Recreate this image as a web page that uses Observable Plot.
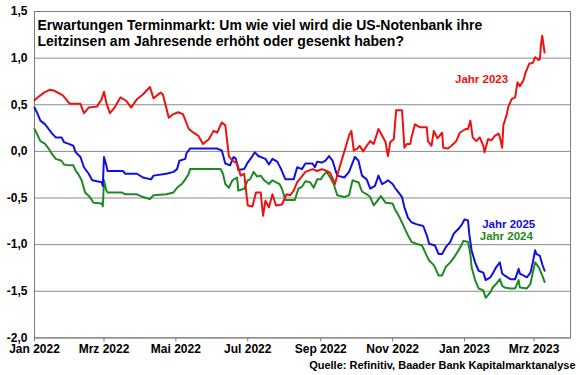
<!DOCTYPE html>
<html><head><meta charset="utf-8">
<script src="https://cdn.jsdelivr.net/npm/d3@7"></script>
<script src="https://cdn.jsdelivr.net/npm/@observablehq/plot@0.6"></script>
<style>body{margin:0;background:#fff} svg{font-family:"Liberation Sans",Arial,sans-serif}</style>
</head><body><div id="chart"></div>
<script>
const titleLines = ["Erwartungen Terminmarkt: Um wie viel wird die US-Notenbank ihre", "Leitzinsen am Jahresende erhöht oder gesenkt haben?"];
const caption = "Quelle: Refinitiv, Baader Bank Kapitalmarktanalyse";
const yTicks = [-2, -1.5, -1, -0.5, 0, 0.5, 1, 1.5];
const xTickDates = ["2022-01-01","2022-03-01","2022-05-01","2022-07-01","2022-09-01","2022-11-01","2023-01-01","2023-03-01"];
const xTickLabels = ["Jan 2022","Mrz 2022","Mai 2022","Jul 2022","Sep 2022","Nov 2022","Jan 2023","Mrz 2023"];
const xDomain = ["2022-01-01","2023-04-01"];

const seriesNames = ["Jahr 2024","Jahr 2025","Jahr 2023"];
const seriesColors = ["#1f8a22","#1010e0","#ee1111"];

const dates2023 = ["2022-01-01","2022-01-04","2022-01-09","2022-01-14","2022-01-18","2022-01-25","2022-01-31","2022-02-09","2022-02-12","2022-02-16","2022-02-23","2022-02-27","2022-03-01","2022-03-03","2022-03-06","2022-03-10","2022-03-15","2022-03-20","2022-03-24","2022-03-29","2022-04-03","2022-04-09","2022-04-12","2022-04-18","2022-04-20","2022-04-25","2022-04-29","2022-05-03","2022-05-07","2022-05-12","2022-05-16","2022-05-20","2022-05-24","2022-05-29","2022-06-02","2022-06-05","2022-06-09","2022-06-12","2022-06-15","2022-06-18","2022-06-22","2022-06-25","2022-06-28","2022-07-01","2022-07-05","2022-07-08","2022-07-12","2022-07-14","2022-07-16","2022-07-19","2022-07-22","2022-07-25","2022-07-30","2022-08-03","2022-08-06","2022-08-09","2022-08-12","2022-08-14","2022-08-19","2022-08-25","2022-08-29","2022-09-02","2022-09-06","2022-09-09","2022-09-12","2022-09-13","2022-09-17","2022-09-22","2022-09-25","2022-09-27","2022-09-29","2022-10-02","2022-10-04","2022-10-07","2022-10-10","2022-10-13","2022-10-16","2022-10-20","2022-10-23","2022-10-26","2022-10-28","2022-10-30","2022-11-02","2022-11-04","2022-11-09","2022-11-11","2022-11-13","2022-11-16","2022-11-17","2022-11-20","2022-11-24","2022-11-30","2022-12-01","2022-12-04","2022-12-06","2022-12-09","2022-12-13","2022-12-14","2022-12-18","2022-12-21","2022-12-25","2022-12-28","2023-01-02","2023-01-04","2023-01-06","2023-01-08","2023-01-11","2023-01-14","2023-01-17","2023-01-18","2023-01-21","2023-01-24","2023-01-27","2023-01-30","2023-01-31","2023-02-02","2023-02-03","2023-02-06","2023-02-07","2023-02-10","2023-02-13","2023-02-15","2023-02-17","2023-02-20","2023-02-22","2023-02-25","2023-02-28","2023-03-02","2023-03-05","2023-03-06","2023-03-07","2023-03-08","2023-03-10"];
const values2023 = [0.55,0.58,0.63,0.66,0.65,0.60,0.51,0.51,0.41,0.47,0.48,0.56,0.64,0.52,0.41,0.47,0.58,0.54,0.47,0.56,0.61,0.69,0.57,0.63,0.61,0.36,0.40,0.42,0.40,0.24,0.20,0.17,0.08,0.13,0.22,0.20,0.31,0.28,-0.05,-0.10,-0.13,-0.26,-0.24,-0.58,-0.59,-0.44,-0.44,-0.69,-0.53,-0.60,-0.46,-0.58,-0.57,-0.46,-0.47,-0.42,-0.33,-0.30,-0.22,-0.19,-0.21,-0.19,-0.21,-0.23,-0.32,-0.35,-0.17,0.04,0.17,0.22,0.01,0.03,0.06,0.00,0.06,0.11,0.08,0.24,0.17,0.10,-0.05,0.10,0.13,0.44,0.44,0.04,0.08,0.08,0.15,0.29,0.26,0.26,0.11,0.06,0.22,0.14,0.20,0.04,0.03,0.06,0.11,0.20,0.24,0.24,0.33,0.15,0.11,0.15,0.06,-0.01,0.13,0.12,0.17,0.19,0.15,0.04,0.28,0.40,0.47,0.56,0.58,0.74,0.70,0.76,0.85,0.94,0.95,1.01,0.98,0.99,1.15,1.24,1.06];

const dates2025 = ["2022-01-01","2022-01-03","2022-01-06","2022-01-10","2022-01-13","2022-01-16","2022-01-19","2022-01-24","2022-01-26","2022-01-30","2022-02-03","2022-02-05","2022-02-09","2022-02-12","2022-02-16","2022-02-19","2022-02-27","2022-02-28","2022-03-01","2022-03-03","2022-03-04","2022-03-17","2022-03-19","2022-03-29","2022-04-03","2022-04-10","2022-04-12","2022-04-23","2022-04-29","2022-05-02","2022-05-04","2022-05-09","2022-05-10","2022-05-13","2022-06-05","2022-06-09","2022-06-12","2022-06-16","2022-06-19","2022-06-21","2022-06-23","2022-06-28","2022-07-01","2022-07-05","2022-07-07","2022-07-10","2022-07-16","2022-07-19","2022-07-22","2022-07-26","2022-07-29","2022-08-02","2022-08-09","2022-08-12","2022-08-16","2022-08-19","2022-08-25","2022-08-27","2022-08-29","2022-09-02","2022-09-05","2022-09-08","2022-09-11","2022-09-15","2022-09-21","2022-09-25","2022-09-30","2022-10-03","2022-10-06","2022-10-10","2022-10-13","2022-10-17","2022-10-20","2022-10-23","2022-10-26","2022-10-28","2022-11-01","2022-11-03","2022-11-06","2022-11-09","2022-11-11","2022-11-14","2022-11-17","2022-11-21","2022-11-27","2022-11-30","2022-12-02","2022-12-07","2022-12-10","2022-12-13","2022-12-16","2022-12-20","2022-12-23","2022-12-27","2022-12-30","2023-01-01","2023-01-04","2023-01-05","2023-01-07","2023-01-10","2023-01-13","2023-01-17","2023-01-19","2023-01-23","2023-01-25","2023-01-28","2023-01-31","2023-02-02","2023-02-04","2023-02-09","2023-02-13","2023-02-16","2023-02-17","2023-02-20","2023-02-23","2023-02-26","2023-02-28","2023-03-02","2023-03-03","2023-03-06","2023-03-08","2023-03-10"];
const values2025 = [0.47,0.42,0.33,0.29,0.24,0.19,0.15,0.15,0.10,0.08,0.06,-0.01,-0.06,-0.17,-0.24,-0.31,-0.33,-0.37,-0.06,-0.15,-0.21,-0.21,-0.24,-0.24,-0.28,-0.30,-0.26,-0.24,-0.22,-0.19,-0.10,-0.08,-0.02,0.03,0.03,0.01,-0.13,-0.15,-0.06,-0.08,-0.20,-0.19,-0.12,-0.05,-0.01,-0.05,-0.08,-0.14,-0.08,-0.11,-0.18,-0.30,-0.30,-0.17,-0.19,-0.13,-0.13,-0.17,-0.11,-0.12,-0.10,-0.05,-0.10,-0.26,-0.28,-0.22,-0.06,-0.10,-0.26,-0.30,-0.40,-0.37,-0.26,-0.35,-0.33,-0.31,-0.35,-0.39,-0.44,-0.49,-0.60,-0.71,-0.76,-0.78,-0.80,-0.90,-0.99,-1.01,-1.10,-1.10,-1.03,-0.97,-0.88,-0.83,-0.78,-0.73,-0.74,-0.88,-1.06,-1.19,-1.28,-1.30,-1.38,-1.35,-1.31,-1.24,-1.19,-1.31,-1.33,-1.37,-1.37,-1.26,-1.31,-1.33,-1.35,-1.30,-1.19,-1.06,-1.10,-1.12,-1.21,-1.28];

const dates2024 = ["2022-01-01","2022-01-03","2022-01-06","2022-01-10","2022-01-13","2022-01-16","2022-01-19","2022-01-24","2022-01-26","2022-01-30","2022-02-03","2022-02-05","2022-02-07","2022-02-10","2022-02-13","2022-02-17","2022-02-20","2022-02-27","2022-02-28","2022-03-01","2022-03-03","2022-03-04","2022-03-16","2022-03-19","2022-03-29","2022-04-03","2022-04-09","2022-04-12","2022-04-23","2022-04-29","2022-05-02","2022-05-06","2022-05-09","2022-05-12","2022-05-13","2022-06-08","2022-06-10","2022-06-12","2022-06-15","2022-06-18","2022-06-22","2022-06-23","2022-06-28","2022-07-01","2022-07-03","2022-07-06","2022-07-09","2022-07-12","2022-07-15","2022-07-19","2022-07-22","2022-07-28","2022-07-30","2022-08-02","2022-08-10","2022-08-13","2022-08-16","2022-08-19","2022-08-23","2022-08-26","2022-08-29","2022-09-01","2022-09-03","2022-09-06","2022-09-09","2022-09-12","2022-09-15","2022-09-21","2022-09-25","2022-09-28","2022-09-30","2022-10-03","2022-10-06","2022-10-10","2022-10-13","2022-10-16","2022-10-19","2022-10-22","2022-10-26","2022-11-01","2022-11-03","2022-11-07","2022-11-10","2022-11-14","2022-11-17","2022-11-21","2022-11-26","2022-11-30","2022-12-02","2022-12-06","2022-12-10","2022-12-13","2022-12-16","2022-12-20","2022-12-23","2022-12-27","2022-12-30","2022-12-31","2023-01-04","2023-01-06","2023-01-07","2023-01-10","2023-01-13","2023-01-17","2023-01-19","2023-01-23","2023-01-25","2023-01-28","2023-01-31","2023-02-02","2023-02-04","2023-02-09","2023-02-13","2023-02-16","2023-02-17","2023-02-23","2023-02-26","2023-02-28","2023-03-02","2023-03-05","2023-03-08","2023-03-10"];
const values2024 = [0.24,0.19,0.11,0.08,0.03,-0.03,-0.08,-0.10,-0.14,-0.15,-0.15,-0.21,-0.24,-0.31,-0.44,-0.49,-0.55,-0.56,-0.59,-0.31,-0.42,-0.44,-0.44,-0.46,-0.46,-0.49,-0.51,-0.47,-0.46,-0.44,-0.39,-0.35,-0.30,-0.24,-0.19,-0.19,-0.24,-0.35,-0.39,-0.31,-0.28,-0.42,-0.40,-0.31,-0.30,-0.22,-0.27,-0.26,-0.31,-0.35,-0.31,-0.35,-0.40,-0.52,-0.52,-0.40,-0.38,-0.32,-0.33,-0.39,-0.30,-0.30,-0.26,-0.22,-0.28,-0.35,-0.47,-0.49,-0.47,-0.31,-0.32,-0.33,-0.43,-0.46,-0.49,-0.58,-0.53,-0.48,-0.55,-0.56,-0.62,-0.71,-0.79,-0.90,-0.97,-0.99,-1.01,-1.12,-1.17,-1.22,-1.33,-1.33,-1.24,-1.19,-1.14,-1.06,-0.99,-0.96,-0.97,-1.10,-1.24,-1.38,-1.47,-1.49,-1.57,-1.51,-1.46,-1.42,-1.37,-1.44,-1.46,-1.47,-1.47,-1.38,-1.46,-1.47,-1.42,-1.30,-1.19,-1.24,-1.33,-1.40];

const labelNames = ["Jahr 2023","Jahr 2025","Jahr 2024"];
const labelDates = ["2022-12-24","2023-01-16","2023-01-14"];
const labelValues = [0.77,-0.78,-0.91];
const labelColors = ["#ee1111","#1010e0","#1f8a22"];

const parse = d3.utcParse("%Y-%m-%d");
const rows = [];
[[dates2024, values2024, seriesNames[0]], [dates2025, values2025, seriesNames[1]], [dates2023, values2023, seriesNames[2]]]
  .forEach(([ds, vs, name]) => ds.forEach((d, i) => rows.push({date: parse(d), value: vs[i], series: name})));
const labels = labelNames.map((n, i) => ({name: n, date: parse(labelDates[i]), value: labelValues[i], color: labelColors[i]}));
const xTicks = xTickDates.map(parse);
const tickLabelMap = new Map(xTicks.map((d, i) => [+d, xTickLabels[i]]));
const yFmt = d => d3.format(".1f")(d).replace(".", ",").replace("\u2212", "-");

const chart = Plot.plot({
  width: 580, height: 375,
  marginLeft: 34, marginRight: 10, marginTop: 11, marginBottom: 37.6,
  style: {fontFamily: "'Liberation Sans', Arial, sans-serif", fontSize: "12px", fontWeight: "bold", color: "#000", background: "#fff", overflow: "visible"},
  x: {type: "utc", domain: xDomain.map(parse), label: null},
  y: {domain: [-2, 1.5], label: null},
  color: {domain: seriesNames, range: seriesColors},
  marks: [
    Plot.ruleY(yTicks, {stroke: "#8a8a8a", strokeWidth: 1}),
    Plot.frame({stroke: "#7a7a7a"}),
    Plot.axisY(yTicks, {label: null, tickSize: 0, tickPadding: 7, tickFormat: yFmt, fill: "#000", fontSize: 12, fontWeight: "bold"}),
    Plot.axisX(xTicks, {label: null, tickSize: 4, tickPadding: 3, tickFormat: d => tickLabelMap.get(+d), stroke: "#7a7a7a", fill: "#000", fontSize: 12, fontWeight: "bold"}),
    Plot.line(rows, {x: "date", y: "value", z: "series", stroke: "series", strokeWidth: 2}),
    Plot.text(labels, {x: "date", y: "value", text: "name", fill: "color", textAnchor: "start", lineAnchor: "middle", fontSize: 11.5, fontWeight: "bold"}),
    Plot.text([titleLines.join("\n")], {frameAnchor: "top-left", dx: 3, dy: 6, textAnchor: "start", lineAnchor: "top", lineHeight: 1.21, fontSize: 14, fontWeight: "bold", fill: "#000"}),
    Plot.text([caption], {frameAnchor: "bottom-right", dx: 5, dy: 27.5, textAnchor: "end", lineAnchor: "middle", fontSize: 11, fontWeight: "bold", fill: "#000"})
  ]
});
document.getElementById("chart").appendChild(chart);
</script>
</body></html>
